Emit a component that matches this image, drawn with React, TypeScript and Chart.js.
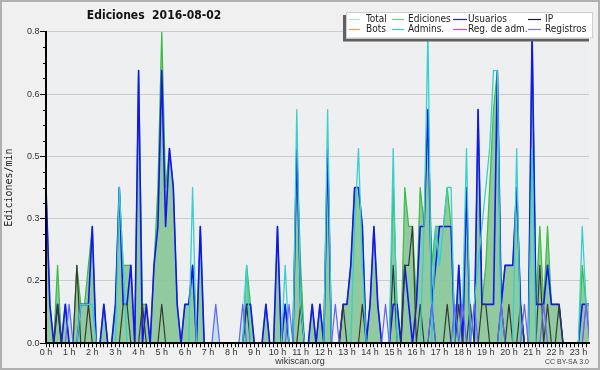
import React, { useEffect, useRef } from 'react';
import { Chart, registerables } from 'chart.js';

Chart.register(...registerables);

// ---- axis / labels ----
const HOUR_LABELS = ['0 h', '1 h', '2 h', '3 h', '4 h', '5 h', '6 h', '7 h', '8 h', '9 h', '10 h', '11 h',
  '12 h', '13 h', '14 h', '15 h', '16 h', '17 h', '18 h', '19 h', '20 h', '21 h', '22 h', '23 h'];
const BINS_PER_HOUR = 6; // 10-minute bins
const X_MAX = 140.75; // axis end, in bins
const Y_TICKS = [0, 0.16, 0.32, 0.48, 0.64, 0.8];
const Y_LABELS = ['0.0', '0.2', '0.3', '0.5', '0.6', '0.8'];
const Y_MINOR = [0.04, 0.08, 0.12, 0.2, 0.24, 0.28, 0.36, 0.4, 0.44, 0.52, 0.56, 0.6, 0.68, 0.72, 0.76];
const TITLE = 'Ediciones  2016-08-02';
const Y_TITLE = 'Ediciones/min';

// ---- series (edits / min, one value per 10-minute bin) ----
const TOTAL = [
  .4, .1, 0, .2, 0, .1, .1, 0, .2, .1, .1, .2,
  .3, 0, 0, .1, 0, 0, .1, .4, .2, .2, .2, 0,
  .7, .1, .1, 0, .2, .4, .8, .4, .5, .4, .1, 0,
  .1, .1, .2, 0, .3, 0, 0, 0, .1, 0, 0, 0,
  0, 0, 0, .1, .2, .1, 0, 0, 0, .1, 0, 0,
  .3, 0, .1, 0, 0, .5, .2, 0, 0, .1, 0, .1,
  0, .5, 0, 0, 0, .1, .1, .2, .4, .4, .3, 0,
  .1, .3, .1, 0, 0, 0, .4, .1, 0, .4, .3, .3,
  .1, .4, .3, .6, .2, .3, .3, .3, .4, .3, 0, .2,
  0, .4, 0, 0, .6, .1, .2, .4, .6, .7, .1, .2,
  .2, .2, .4, .1, 0, 0, .8, .1, .3, .1, .3, .1,
  .1, .1, 0, 0, 0, 0, 0, .2, .1, .1,
];
const EDICIONES = [
  .4, .1, 0, .2, 0, .1, 0, 0, .2, .1, .1, .2,
  .3, 0, 0, .1, 0, 0, .1, .4, .2, .2, .2, 0,
  .7, .1, .1, 0, .2, .4, .8, .4, .5, .4, .1, 0,
  .1, .1, .2, 0, .3, 0, 0, 0, 0, 0, 0, 0,
  0, 0, 0, 0, .2, .1, 0, 0, 0, .1, 0, 0,
  .3, 0, .1, 0, 0, .5, .2, 0, 0, .1, 0, .1,
  0, .5, 0, 0, 0, .1, .1, .2, .4, .4, .3, 0,
  .1, .3, .1, 0, 0, 0, .4, .1, 0, .4, .3, .3,
  .1, .4, .3, .6, .2, .3, .3, .3, .4, .3, 0, .2,
  0, .4, 0, 0, .6, .1, .2, .4, .6, .7, .1, .2,
  .2, .2, .4, .1, 0, 0, .8, .1, .3, .1, .3, .1,
  .1, .1, 0, 0, 0, 0, 0, .2, .1, .1,
];
const USUARIOS = [
  .4, .1, 0, .1, 0, .1, 0, 0, 0, .1, .1, .1,
  .3, 0, 0, .1, 0, 0, .1, .4, .1, .1, .2, 0,
  .7, 0, .1, 0, .2, .3, .7, .3, .5, .4, .1, 0,
  .1, .1, .2, 0, .3, 0, 0, 0, 0, 0, 0, 0,
  0, 0, 0, 0, .1, .1, 0, 0, 0, .1, 0, 0,
  .3, 0, .1, 0, 0, .5, .1, 0, 0, .1, 0, .1,
  0, .5, 0, 0, 0, .1, .1, .2, .4, .4, .3, 0,
  .1, .3, .1, 0, 0, 0, .1, .1, 0, .2, .1, 0,
  .1, .3, .3, .6, .1, .2, .3, .3, .3, .3, 0, .2,
  0, .4, 0, 0, .6, .1, .1, .1, .1, .7, .1, .2,
  .2, .2, .4, .1, 0, 0, .8, .1, .1, .1, .2, .1,
  .1, .1, 0, 0, 0, 0, 0, .1, .1, .1,
];
const IP = [
  0, 0, 0, .1, 0, 0, 0, 0, .2, 0, 0, .1,
  0, 0, 0, 0, 0, 0, 0, 0, .1, .1, 0, 0,
  0, .1, 0, 0, 0, 0, .1, 0, 0, 0, 0, 0,
  0, 0, 0, 0, 0, 0, 0, 0, 0, 0, 0, 0,
  0, 0, 0, 0, .1, 0, 0, 0, 0, 0, 0, 0,
  0, 0, 0, 0, 0, 0, .1, 0, 0, 0, 0, 0,
  0, 0, 0, 0, 0, .1, 0, 0, 0, 0, .1, 0,
  0, 0, 0, 0, 0, 0, .2, 0, 0, .2, .2, .3,
  0, .1, 0, 0, .1, 0, 0, 0, .1, 0, 0, .1,
  0, 0, .1, 0, 0, .1, .1, 0, 0, 0, .1, 0,
  .1, 0, 0, .1, 0, 0, 0, 0, .2, 0, .1, 0,
  0, .1, 0, 0, 0, 0, 0, 0, 0, 0,
];
const BOTS = [
  0, 0, 0, 0, 0, 0, 0, 0, 0, 0, 0, 0,
  0, 0, 0, 0, 0, 0, 0, 0, 0, 0, 0, 0,
  0, 0, 0, 0, 0, 0, 0, 0, 0, 0, 0, 0,
  0, 0, 0, 0, 0, 0, 0, 0, 0, 0, 0, 0,
  0, 0, 0, 0, 0, 0, 0, 0, 0, 0, 0, 0,
  0, 0, 0, 0, 0, 0, 0, 0, 0, 0, 0, 0,
  0, 0, 0, 0, 0, 0, 0, 0, 0, 0, 0, 0,
  0, 0, 0, 0, 0, 0, 0, 0, 0, 0, 0, 0,
  0, 0, 0, 0, 0, 0, 0, 0, 0, 0, 0, 0,
  0, 0, 0, 0, 0, 0, 0, 0, 0, 0, 0, 0,
  0, 0, 0, 0, 0, 0, 0, 0, 0, 0, 0, 0,
  0, 0, 0, 0, 0, 0, 0, 0, 0, 0,
];
const ADMINS = [
  0, 0, 0, 0, 0, 0, 0, 0, 0, .1, .1, .1,
  .1, 0, 0, 0, 0, 0, 0, .4, .2, 0, 0, 0,
  0, 0, 0, 0, 0, 0, 0, 0, 0, 0, 0, 0,
  0, 0, .4, 0, 0, 0, 0, 0, 0, 0, 0, 0,
  0, 0, 0, 0, .2, 0, 0, 0, 0, 0, 0, 0,
  0, 0, .2, 0, 0, .6, .1, 0, 0, 0, 0, 0,
  0, .6, 0, 0, 0, 0, 0, 0, .3, .5, .2, 0,
  0, 0, 0, 0, 0, 0, .5, 0, 0, 0, 0, 0,
  0, 0, .3, .8, 0, .3, .2, .3, .4, .4, 0, 0,
  .1, .5, 0, .1, .2, .3, .4, .5, .7, .7, 0, 0,
  0, 0, .5, 0, 0, 0, .5, 0, 0, 0, 0, 0,
  0, 0, 0, 0, 0, 0, 0, .3, .1, .1,
];
const REG_ADM = [
  0, 0, 0, 0, 0, 0, 0, 0, 0, 0, 0, 0,
  0, 0, 0, 0, 0, 0, 0, 0, 0, 0, 0, 0,
  0, 0, 0, 0, 0, 0, 0, 0, 0, 0, 0, 0,
  0, 0, 0, 0, 0, 0, 0, 0, 0, 0, 0, 0,
  0, 0, 0, 0, 0, 0, 0, 0, 0, 0, 0, 0,
  0, 0, 0, 0, 0, 0, 0, 0, 0, 0, 0, 0,
  0, 0, 0, 0, 0, 0, 0, 0, 0, 0, 0, 0,
  0, 0, 0, 0, 0, 0, 0, 0, 0, 0, 0, 0,
  0, 0, 0, 0, 0, 0, 0, 0, 0, 0, 0, 0,
  0, 0, 0, 0, 0, 0, 0, 0, 0, 0, 0, 0,
  0, 0, 0, 0, 0, 0, 0, 0, 0, 0, 0, 0,
  0, 0, 0, 0, 0, 0, 0, 0, .1, 0,
];
const REGISTROS = [
  0, 0, 0, 0, 0, 0, .1, 0, 0, 0, 0, 0,
  0, 0, 0, 0, 0, 0, 0, 0, 0, 0, 0, 0,
  0, 0, 0, 0, 0, 0, 0, 0, 0, 0, 0, 0,
  0, 0, 0, 0, 0, 0, 0, 0, .1, 0, 0, 0,
  0, 0, 0, .1, 0, 0, 0, 0, 0, 0, 0, 0,
  0, 0, 0, .1, 0, 0, 0, 0, 0, 0, 0, 0,
  0, 0, 0, .1, 0, 0, 0, 0, 0, 0, 0, 0,
  0, 0, 0, 0, .1, 0, 0, 0, 0, 0, 0, 0,
  0, 0, 0, 0, .1, 0, 0, 0, 0, 0, .1, 0,
  .1, 0, 0, .1, 0, 0, 0, 0, 0, 0, .1, 0,
  0, 0, 0, 0, .1, 0, 0, 0, 0, .1, 0, 0,
  0, 0, 0, 0, 0, 0, 0, 0, .1, 0,
];

const SANS = "'DejaVu Sans Condensed', 'Liberation Sans', sans-serif";
const SMALL = "'Liberation Sans', sans-serif";

const SERIES = [
  { label: 'Total', data: TOTAL, color: '#aee4e4', fill: 'rgba(188,222,234,0.85)', width: 1, order: 8 },
  { label: 'Ediciones', data: EDICIONES, color: '#3dbd3d', fill: 'rgba(112,188,112,0.62)', width: 1.2, order: 7 },
  { label: 'Usuarios', data: USUARIOS, color: '#1515f0', fill: null, width: 1.6, order: 6 },
  { label: 'IP', data: IP, color: '#383838', fill: null, width: 1.2, order: 5 },
  { label: 'Bots', data: BOTS, color: '#f0a040', fill: null, width: 1, order: 4 },
  { label: 'Admins.', data: ADMINS, color: '#38cfcc', fill: null, width: 1.3, order: 3 },
  { label: 'Reg. de adm.', data: REG_ADM, color: '#c040e0', fill: null, width: 1, order: 2 },
  { label: 'Registros', data: REGISTROS, color: '#6464ff', fill: null, width: 1.2, order: 1 },
];

const LEGEND_ITEMS = [
  { label: 'Total', color: '#a8e4e4', x1: 349, x2: 360, tx: 366, row: 0 },
  { label: 'Ediciones', color: '#78cc78', x1: 392, x2: 404, tx: 408, row: 0 },
  { label: 'Usuarios', color: '#2020e0', x1: 453, x2: 467, tx: 468, row: 0 },
  { label: 'IP', color: '#202020', x1: 528, x2: 541, tx: 545, row: 0 },
  { label: 'Bots', color: '#f0a040', x1: 349, x2: 360, tx: 366, row: 1 },
  { label: 'Admins.', color: '#38c8d8', x1: 392, x2: 404, tx: 408, row: 1 },
  { label: 'Reg. de adm.', color: '#cc44e0', x1: 453, x2: 467, tx: 468, row: 1 },
  { label: 'Registros', color: '#7878f4', x1: 528, x2: 541, tx: 545, row: 1 },
];

const decorPlugin = {
  id: 'decor',
  beforeDraw(chart: any) {
    const { ctx, chartArea: a, width, height } = chart;
    ctx.save();
    ctx.fillStyle = '#f0f0f0';
    ctx.fillRect(0, 0, width, height);
    ctx.fillStyle = '#edeff1';
    ctx.fillRect(a.left, a.top, a.right - a.left, a.bottom - a.top);
    ctx.restore();
  },
  afterDraw(chart: any) {
    const { ctx, chartArea: a } = chart;
    const y = chart.scales.y;
    ctx.save();
    // minor y ticks
    ctx.strokeStyle = '#000';
    ctx.lineWidth = 1;
    ctx.beginPath();
    for (const v of Y_MINOR) {
      const py = Math.round(y.getPixelForValue(v)) + 0.5;
      ctx.moveTo(a.left - 3, py);
      ctx.lineTo(a.left, py);
    }
    ctx.stroke();

    // title
    ctx.fillStyle = '#111';
    ctx.font = `bold 12px ${SANS}`;
    ctx.textAlign = 'center';
    ctx.textBaseline = 'middle';
    ctx.fillText(TITLE, 154, 16);

    // y axis title
    ctx.save();
    ctx.translate(9, (a.top + a.bottom) / 2);
    ctx.rotate(-Math.PI / 2);
    ctx.font = "10px 'DejaVu Sans Mono', monospace";
    ctx.fillStyle = '#222';
    ctx.fillText(Y_TITLE, 0, 0);
    ctx.restore();

    // legend
    ctx.fillStyle = '#606060';
    ctx.fillRect(343, 15, 246, 26.5);
    ctx.fillStyle = '#ffffff';
    ctx.fillRect(346, 12, 247, 26.5);
    ctx.strokeStyle = '#cfcfcf';
    ctx.lineWidth = 1;
    ctx.strokeRect(346.5, 12.5, 246, 25.5);
    ctx.font = `10px ${SANS}`;
    ctx.textAlign = 'left';
    ctx.textBaseline = 'middle';
    for (const it of LEGEND_ITEMS) {
      const ry = it.row === 0 ? 19.5 : 29.5;
      ctx.strokeStyle = it.color;
      ctx.lineWidth = 1.2;
      ctx.beginPath();
      ctx.moveTo(it.x1, ry);
      ctx.lineTo(it.x2, ry);
      ctx.stroke();
      ctx.fillStyle = '#222';
      ctx.fillText(it.label, it.tx, ry);
    }

    // footer
    ctx.fillStyle = '#333';
    ctx.font = `9px ${SMALL}`;
    ctx.textAlign = 'center';
    ctx.fillText('wikiscan.org', 300, 362);
    ctx.font = `7px ${SMALL}`;
    ctx.textAlign = 'right';
    ctx.fillStyle = '#444';
    ctx.fillText('CC BY-SA 3.0', 589, 362);

    // outer border
    ctx.strokeStyle = '#b0b0b0';
    ctx.lineWidth = 2;
    ctx.strokeRect(1, 1, 598, 368);
    ctx.restore();
  },
};

export default function App() {
  const ref = useRef<HTMLCanvasElement>(null);
  useEffect(() => {
    const canvas = ref.current;
    if (!canvas) return;
    const datasets = SERIES.map((s) => ({
      label: s.label,
      data: s.data.map((v, i) => ({ x: i, y: v })),
      borderColor: s.color,
      backgroundColor: s.fill || s.color,
      fill: s.fill ? 'origin' : false,
      borderWidth: s.width,
      pointRadius: 0,
      tension: 0,
      borderJoinStyle: 'round' as const,
      order: s.order,
    }));
    const xTicks = Array.from({ length: Math.floor(X_MAX) + 1 }, (_, i) => ({ value: i }));
    const chart = new Chart(canvas, {
      type: 'line',
      data: { datasets },
      plugins: [decorPlugin],
      options: {
        animation: false,
        responsive: false,
        devicePixelRatio: 1,
        layout: { padding: { top: 31.7, right: 11, bottom: 0, left: 0 } },
        plugins: { legend: { display: false }, title: { display: false }, tooltip: { enabled: false } },
        scales: {
          x: {
            type: 'linear',
            min: 0,
            max: X_MAX,
            afterBuildTicks: (s: any) => { s.ticks = xTicks; },
            afterFit: (s: any) => { s.height = 26.7; },
            ticks: {
              autoSkip: false,
              maxRotation: 0,
              minRotation: 0,
              padding: 0,
              color: '#333',
              font: { family: SMALL, size: 9 },
              callback: (v: any) => (v % BINS_PER_HOUR === 0 ? HOUR_LABELS[v / BINS_PER_HOUR] : ''),
            },
            grid: { drawOnChartArea: false, drawTicks: true, tickLength: 4, tickColor: '#000', tickWidth: 1 },
            border: { display: true, color: '#000', width: 2, z: 1 },
          },
          y: {
            type: 'linear',
            min: 0,
            max: 0.8,
            afterBuildTicks: (s: any) => { s.ticks = Y_TICKS.map((v) => ({ value: v })); },
            afterFit: (s: any) => { s.width = 46; },
            ticks: {
              padding: 0.5,
              color: '#333',
              font: { family: SMALL, size: 9 },
              callback: (_v: any, i: number) => Y_LABELS[i],
            },
            grid: { color: '#cbcbcb', lineWidth: 1, drawTicks: true, tickLength: 6, tickColor: '#000', tickWidth: 1 },
            border: { display: true, color: '#000', width: 2, z: 1 },
          },
        },
      },
    } as any);
    return () => chart.destroy();
  }, []);
  return (
    <div style={{ position: 'fixed', left: 0, top: 0, width: 600, height: 370 }}>
      <canvas ref={ref} width={600} height={370} style={{ display: 'block', width: 600, height: 370 }} />
    </div>
  );
}
